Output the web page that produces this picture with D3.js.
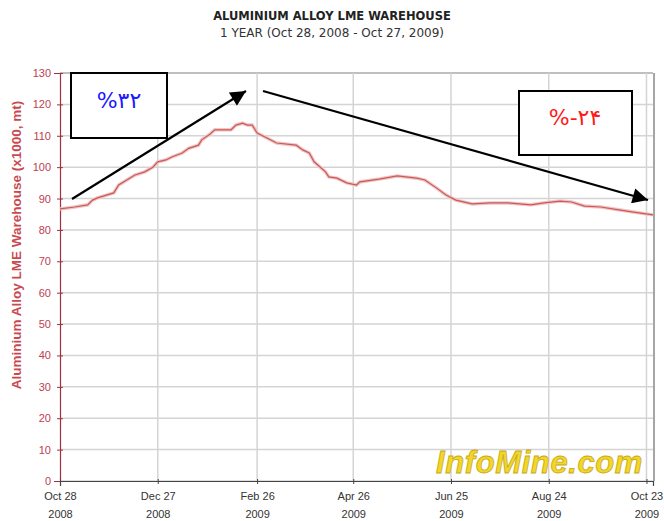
<!DOCTYPE html>
<html>
<head>
<meta charset="utf-8">
<script src="https://cdn.jsdelivr.net/npm/d3@7"></script>
<style>
  body { margin: 0; background: #fff; }
  svg { display: block; }
</style>
</head>
<body>
<script>
// data (thousand tonnes)
var dates = ["2008-10-28","2008-11-06","2008-11-14","2008-11-17","2008-11-20","2008-11-30","2008-12-03",
  "2008-12-13","2008-12-19","2008-12-24","2008-12-27","2009-01-01","2009-01-05","2009-01-11","2009-01-15",
  "2009-01-21","2009-01-23","2009-01-28","2009-01-31","2009-02-10","2009-02-13","2009-02-17","2009-02-20",
  "2009-02-23","2009-02-26","2009-03-04","2009-03-10","2009-03-22","2009-03-26","2009-03-30","2009-04-02",
  "2009-04-09","2009-04-11","2009-04-16","2009-04-22","2009-04-28","2009-04-30","2009-05-12","2009-05-23",
  "2009-06-04","2009-06-09","2009-06-16","2009-06-22","2009-06-28","2009-07-08","2009-07-19","2009-07-30",
  "2009-08-13","2009-08-21","2009-08-31","2009-09-07","2009-09-15","2009-09-25","2009-10-06","2009-10-15",
  "2009-10-27"];
var values = [86.7,87.3,88.0,89.5,90.2,91.8,94.3,
  97.5,98.5,100.0,101.7,102.3,103.3,104.5,106.0,
  107.0,108.7,110.5,111.9,111.9,113.4,114.0,113.4,
  113.4,110.9,109.3,107.7,107.0,105.5,104.5,101.7,
  98.5,96.9,96.5,95.0,94.3,95.3,96.2,97.2,
  96.5,95.9,93.4,91.1,89.5,88.3,88.6,88.6,
  88.0,88.6,89.2,88.9,87.6,87.3,86.4,85.7,
  84.8];
var tickDates = ["2008-10-28","2008-12-27","2009-02-26","2009-04-26","2009-06-25","2009-08-24","2009-10-23"];
var tickLabels = [["Oct 28","2008"],["Dec 27","2008"],["Feb 26","2009"],["Apr 26","2009"],
  ["Jun 25","2009"],["Aug 24","2009"],["Oct 23","2009"]];
var yTicks = [0,10,20,30,40,50,60,70,80,90,100,110,120,130];

var parse = d3.timeParse("%Y-%m-%d");
var series = dates.map(function(d, i){ return {date: parse(d), value: values[i]}; });

var width = 664, height = 521;
var svg = d3.select("body").append("svg")
  .attr("width", width).attr("height", height)
  .style("font-family", "Arial, 'Liberation Sans', sans-serif");

var x = d3.scaleTime()
  .domain([parse("2008-10-28"), parse("2009-10-27")])
  .range([60, 653]);
var y = d3.scaleLinear().domain([0, 130]).range([481, 73]);

// titles
svg.append("text").attr("x", 332).attr("y", 20).attr("text-anchor", "middle")
  .style("font-family", "'DejaVu Sans', sans-serif")
  .style("font-size", "11.5px").style("font-weight", "bold").attr("fill", "#222")
  .text("ALUMINIUM ALLOY LME WAREHOUSE");
svg.append("text").attr("x", 332).attr("y", 37).attr("text-anchor", "middle")
  .style("font-family", "'DejaVu Sans', sans-serif")
  .style("font-size", "12px").attr("fill", "#333")
  .text("1 YEAR (Oct 28, 2008 - Oct 27, 2009)");

// grid
svg.append("g").selectAll("line").data(yTicks).enter().append("line")
  .attr("x1", 60).attr("x2", 653)
  .attr("y1", function(d){ return y(d); }).attr("y2", function(d){ return y(d); })
  .attr("stroke", function(d){ return d == 130 ? "#aaa" : "#d4d4d4"; }).attr("stroke-width", 1.5);
svg.append("g").selectAll("line").data(tickDates.slice(1)).enter().append("line")
  .attr("x1", function(d){ return x(parse(d)); }).attr("x2", function(d){ return x(parse(d)); })
  .attr("y1", 73).attr("y2", 481)
  .attr("stroke", "#d4d4d4").attr("stroke-width", 1.5);
svg.append("line").attr("x1", 654).attr("x2", 654).attr("y1", 73).attr("y2", 481)
  .attr("stroke", "#888").attr("stroke-width", 1.5);

// watermark
svg.append("text").attr("x", 643).attr("y", 473).attr("text-anchor", "end")
  .style("font-size", "31px").style("font-weight", "bold").style("font-style", "italic")
  .attr("fill", "#f2d62a").attr("stroke", "#c9a818").attr("stroke-width", 0.8)
  .attr("letter-spacing", "0.6px")
  .text("InfoMine.com");

// y axis
var yAxis = d3.axisLeft(y).tickValues(yTicks).tickSize(6).tickPadding(3);
var gy = svg.append("g").attr("transform", "translate(60,0)").call(yAxis);
gy.select(".domain").attr("stroke", "#a03040").attr("stroke-width", 1.2);
gy.selectAll(".tick line").attr("stroke", "#a03040").attr("transform", "translate(3,0)");
gy.selectAll(".tick text").attr("fill", "#c04050").style("font-size", "11px")
  .style("font-family", "Arial, 'Liberation Sans', sans-serif");

// x axis
var xAxis = d3.axisBottom(x).tickValues(tickDates.map(parse)).tickSize(5).tickFormat("");
var gx = svg.append("g").attr("transform", "translate(0,481)").call(xAxis);
gx.select(".domain").attr("stroke", "#444").attr("stroke-width", 1.2);
gx.selectAll(".tick line").attr("stroke", "#444").attr("transform", "translate(0,-2)");
gx.selectAll(".tick").each(function(d, i){
  var t = d3.select(this).append("text").attr("fill", "#333").attr("text-anchor", "middle")
    .style("font-size", "11px").style("font-family", "Arial, 'Liberation Sans', sans-serif");
  t.append("tspan").attr("x", 0).attr("y", 19).text(tickLabels[i][0]);
  t.append("tspan").attr("x", 0).attr("y", 37).text(tickLabels[i][1]);
});

// y label
svg.append("text")
  .attr("transform", "translate(21,245) rotate(-90)")
  .attr("text-anchor", "middle")
  .style("font-size", "13.5px").style("font-weight", "bold").attr("fill", "#c84a50")
  .text("Aluminium Alloy LME Warehouse (x1000, mt)");

// data line
var line = d3.line().x(function(d){ return x(d.date); }).y(function(d){ return y(d.value); });
svg.append("path").datum(series).attr("d", line).attr("fill", "none")
  .attr("stroke", "#f2c4c4").attr("stroke-width", 3.5);
svg.append("path").datum(series).attr("d", line).attr("fill", "none")
  .attr("stroke", "#c85a5a").attr("stroke-width", 1.2);

// annotations
var defs = svg.append("defs");
defs.append("marker").attr("id", "arrow").attr("viewBox", "0 0 10 10")
  .attr("refX", 10).attr("refY", 5).attr("markerWidth", 8).attr("markerHeight", 7)
  .attr("orient", "auto").attr("markerUnits", "strokeWidth")
  .append("path").attr("d", "M0,0 L10,5 L0,10 Z").attr("fill", "#000");

svg.append("line").attr("x1", 72).attr("y1", 199).attr("x2", 246).attr("y2", 91)
  .attr("stroke", "#000").attr("stroke-width", 2.2).attr("marker-end", "url(#arrow)");
svg.append("line").attr("x1", 263).attr("y1", 91).attr("x2", 648).attr("y2", 200)
  .attr("stroke", "#000").attr("stroke-width", 2.2).attr("marker-end", "url(#arrow)");

svg.append("rect").attr("x", 71).attr("y", 73).attr("width", 96).attr("height", 65)
  .attr("fill", "#fff").attr("stroke", "#000").attr("stroke-width", 2);
svg.append("text").attr("x", 119).attr("y", 108).attr("text-anchor", "middle")
  .attr("direction", "ltr").style("font-family", "'DejaVu Sans', sans-serif")
  .style("font-size", "22px").attr("fill", "#1a1aff").text("%۳۲");

svg.append("rect").attr("x", 519).attr("y", 91).attr("width", 113).attr("height", 64)
  .attr("fill", "#fff").attr("stroke", "#000").attr("stroke-width", 2);
svg.append("text").attr("x", 575).attr("y", 125).attr("text-anchor", "middle")
  .attr("direction", "ltr").style("font-family", "'DejaVu Sans', sans-serif")
  .style("font-size", "22px").attr("fill", "#ff1a1a").text("%-۲۴");
</script>
</body>
</html>
